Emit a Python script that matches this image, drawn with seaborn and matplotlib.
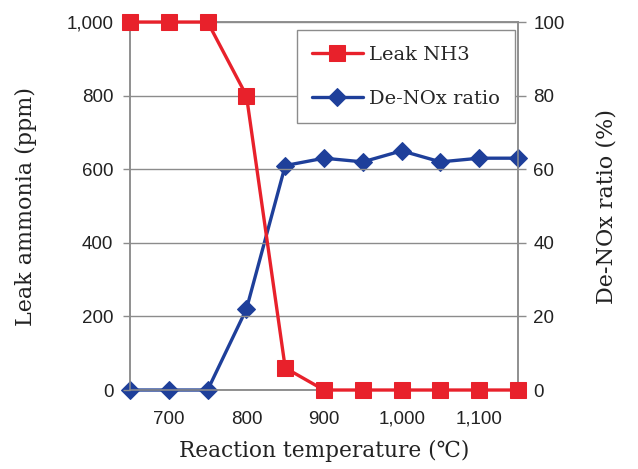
import numpy as np
import pandas as pd
import matplotlib
matplotlib.use('Agg')
import matplotlib.pyplot as plt
import seaborn as sns
from matplotlib.ticker import FuncFormatter, MultipleLocator

# ----------------------------
# Data
# ----------------------------
temperature = [650, 700, 750, 800, 850, 900, 950, 1000, 1050, 1100, 1150]
leak_nh3 = [1000, 1000, 1000, 800, 60, 0, 0, 0, 0, 0, 0]
denox_ratio = [0, 0, 0, 22, 61, 63, 62, 65, 62, 63, 63]
x_ticks = [700, 800, 900, 1000, 1100]
left_ticks = [0, 200, 400, 600, 800, 1000]
right_ticks = [0, 20, 40, 60, 80, 100]

df = pd.DataFrame({'temp': temperature, 'nh3': leak_nh3, 'denox': denox_ratio})

red = '#E8212B'
blue = '#1E3F9A'
grey = '#8C8C8C'
serif = ['DejaVu Serif']
sans = ['Liberation Sans', 'DejaVu Sans']

sns.set_style('white')
plt.rcParams['font.family'] = sans

fig = plt.figure(figsize=(6.38, 4.69), dpi=100)
ax = fig.add_axes([0.2038, 0.1684, 0.6082, 0.7846])
ax2 = ax.twinx()

sns.lineplot(data=df, x='temp', y='denox', ax=ax2, color=blue, lw=2.4,
             marker='D', markersize=9.5, markeredgecolor=blue,
             label='De-NOx ratio', legend=False, clip_on=False, zorder=3)
sns.lineplot(data=df, x='temp', y='nh3', ax=ax, color=red, lw=2.4,
             marker='s', markersize=11.5, markeredgecolor=red,
             label='Leak NH3', legend=False, clip_on=False, zorder=3)

# red line drawn above the blue one
ax.set_zorder(ax2.get_zorder() + 1)
ax.patch.set_visible(False)

ax.set_xlim(650, 1150)
ax.set_ylim(0, 1000)
ax2.set_ylim(0, 100)
ax.set_xticks(x_ticks)
ax.xaxis.set_minor_locator(MultipleLocator(50))
ax.set_yticks(left_ticks)
ax2.set_yticks(right_ticks)

fmt = FuncFormatter(lambda v, p: f'{int(v):,}')
ax.xaxis.set_major_formatter(fmt)
ax.yaxis.set_major_formatter(fmt)

ax.grid(axis='y', color=grey, lw=1)
for a in (ax, ax2):
    for s in a.spines.values():
        s.set_color(grey)
        s.set_linewidth(1.1)

ax.tick_params(axis='y', direction='out', length=5, color=grey, width=1,
               labelsize=13.5, pad=7, labelcolor='#222222')
ax.tick_params(axis='x', which='both', direction='out', length=5, color=grey,
               width=1, labelsize=13.5, pad=10, labelcolor='#222222')
ax2.tick_params(axis='y', direction='out', length=6, color=grey, width=1,
                labelsize=13.5, pad=5, labelcolor='#222222')

ax.set_xlabel('Reaction temperature (\u2103)', family=serif, fontsize=15.6,
              color='#222222', labelpad=9)
ax.set_ylabel('Leak ammonia (ppm)', family=serif, fontsize=16,
              color='#222222', labelpad=21)
ax2.set_ylabel('De-NOx ratio (%)', family=serif, fontsize=16,
               color='#222222', labelpad=22)

# ----------------------------
# Legend
# ----------------------------
h1, l1 = ax.get_legend_handles_labels()
h2, l2 = ax2.get_legend_handles_labels()
leg = ax.legend(h1 + h2, l1 + l2, loc='upper right',
                bbox_to_anchor=(0.992, 0.978), borderaxespad=0,
                prop={'family': serif, 'size': 14}, fancybox=False,
                framealpha=1, edgecolor=grey, handlelength=2.6,
                borderpad=0.8, labelspacing=1.35, handletextpad=0.3)
leg.get_frame().set_linewidth(1)

fig.savefig('out.png', dpi=100)
